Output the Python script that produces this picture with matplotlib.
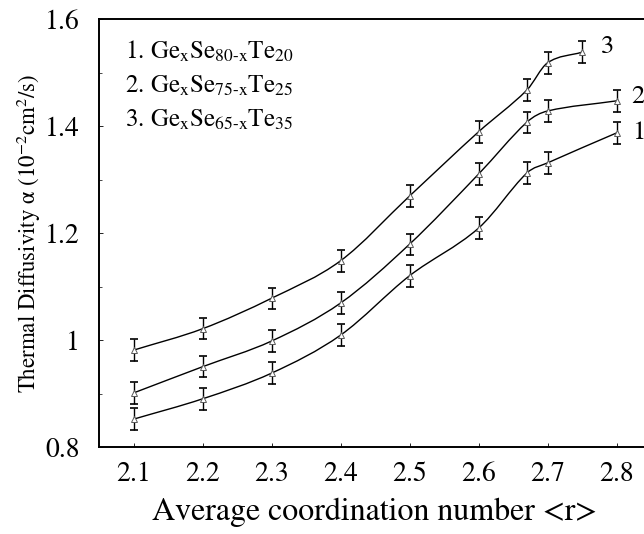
import matplotlib
matplotlib.use("Agg")
import matplotlib.pyplot as plt
from matplotlib.path import Path
from matplotlib.patches import PathPatch
import numpy as np

plt.rcParams["font.family"] = ["STIXGeneral", "DejaVu Serif"]
plt.rcParams["mathtext.fontset"] = "stix"

# average coordination number <r>
R_12 = [2.1, 2.2, 2.3, 2.4, 2.5, 2.6, 2.67, 2.7, 2.8]
R_3 = [2.1, 2.2, 2.3, 2.4, 2.5, 2.6, 2.67, 2.7, 2.75]

# thermal diffusivity (10^-2 cm^2/s)
ALPHA_1 = [0.852, 0.890, 0.938, 1.009, 1.120, 1.209, 1.312, 1.331, 1.387]
ALPHA_2 = [0.901, 0.950, 0.998, 1.069, 1.179, 1.310, 1.407, 1.428, 1.447]
ALPHA_3 = [0.981, 1.021, 1.078, 1.148, 1.269, 1.389, 1.467, 1.518, 1.538]
ERR = 0.02

LEGEND = [r"1. Ge$_{\rm x}$Se$_{\rm 80\text{-}x}$Te$_{\rm 20}$",
          r"2. Ge$_{\rm x}$Se$_{\rm 75\text{-}x}$Te$_{\rm 25}$",
          r"3. Ge$_{\rm x}$Se$_{\rm 65\text{-}x}$Te$_{\rm 35}$"]
CURVE_LABELS = ["1", "2", "3"]


def smooth_path(x, y):
    # cubic hermite through the points, drawn as bezier segments
    x = np.asarray(x, float)
    y = np.asarray(y, float)
    n = len(x)
    m = np.zeros(n)
    m[0] = (y[1] - y[0]) / (x[1] - x[0])
    m[-1] = (y[-1] - y[-2]) / (x[-1] - x[-2])
    for i in range(1, n - 1):
        m[i] = (y[i + 1] - y[i - 1]) / (x[i + 1] - x[i - 1])
    verts = [(x[0], y[0])]
    codes = [Path.MOVETO]
    for i in range(n - 1):
        h = x[i + 1] - x[i]
        verts += [(x[i] + h / 3, y[i] + m[i] * h / 3),
                  (x[i + 1] - h / 3, y[i + 1] - m[i + 1] * h / 3),
                  (x[i + 1], y[i + 1])]
        codes += [Path.CURVE4] * 3
    return Path(verts, codes)


fig = plt.figure(figsize=(6.44, 5.34), dpi=100)
ax = fig.add_axes([99 / 644, 87 / 534, 552 / 644, 428 / 534])

for xs, ys in [(R_12, ALPHA_1), (R_12, ALPHA_2), (R_3, ALPHA_3)]:
    ax.add_patch(PathPatch(smooth_path(xs, ys), fill=False, lw=1.0, ec="black"))
    ax.errorbar(xs, ys, yerr=ERR, fmt="none", ecolor="black", elinewidth=1.0,
                capsize=3, capthick=1.2)
    ax.plot(xs, ys, ls="none", marker="^", ms=5, mfc="white", mec="0.35", mew=0.7)

ax.set_xlim(2.05, 2.85)
ax.set_ylim(0.8, 1.6)
ax.set_xticks([2.1, 2.2, 2.3, 2.4, 2.5, 2.6, 2.7, 2.8])
ax.set_yticks([0.8, 1.0, 1.2, 1.4, 1.6])
ax.set_yticklabels(["0.8", "1", "1.2", "1.4", "1.6"])
ax.set_yticks([0.9, 1.1, 1.3, 1.5], minor=True)
ax.tick_params(direction="in", length=3, width=0.6, labelsize=20)
ax.tick_params(axis="x", pad=11)
ax.tick_params(axis="y", pad=14)
ax.tick_params(which="minor", direction="in", length=2, width=0.5)
ax.spines["right"].set_visible(False)
for s in ["left", "bottom", "top"]:
    ax.spines[s].set_linewidth(1.4)

ax.set_xlabel("Average coordination number <r>", fontsize=23, labelpad=7)
ax.set_ylabel("Thermal Diffusivity α (10$^{-2}$cm$^{2}$/s)", fontsize=16.5,
              labelpad=1)

for i, txt in enumerate(LEGEND):
    ax.text(2.087, 1.538 - i * 0.064, txt, fontsize=18, va="center")

ax.text(2.822, 1.387, CURVE_LABELS[0], fontsize=19, va="center")
ax.text(2.822, 1.455, CURVE_LABELS[1], fontsize=19, va="center")
ax.text(2.778, 1.548, CURVE_LABELS[2], fontsize=19, va="center")

fig.savefig("out.png", dpi=100)
